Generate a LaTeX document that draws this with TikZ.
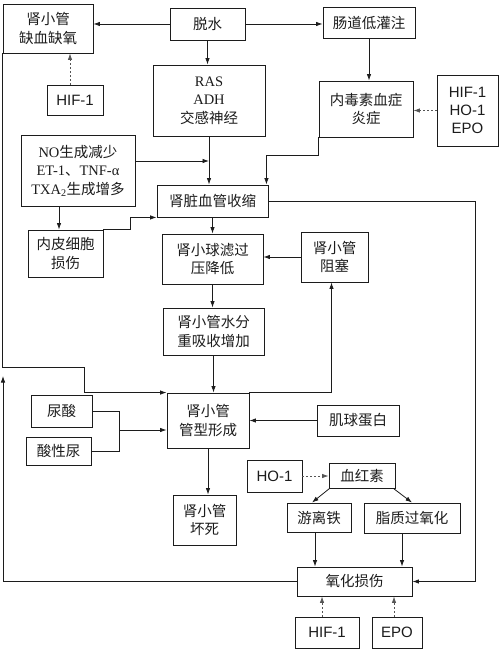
\documentclass[tikz,border=0pt]{standalone}
\usepackage{fontspec}
\setmainfont{Liberation Serif}
\newfontfamily\cjk{Noto Sans CJK SC}
\newfontfamily\lsans{Liberation Sans}
\usetikzlibrary{arrows.meta,calc}
\definecolor{ink}{HTML}{1C1C1C}
\definecolor{dotc}{HTML}{555555}
\begin{document}
\begin{tikzpicture}[x=1pt,y=-1pt,
  bx/.style={draw=ink, line width=0.9pt, inner sep=0pt, align=center, text=ink,
    font=\cjk\fontsize{14.5}{18.5}\selectfont},
  sb/.style={bx, font=\lsans\fontsize{15}{18}\selectfont},
  ln/.style={draw=ink, line width=0.8pt},
  arr/.style={ln, -{Latex[length=6.5pt,width=4.5pt]}},
  darr/.style={draw=dotc, line width=0.8pt, dash pattern=on 2pt off 2pt, -{Latex[length=6.5pt,width=4.5pt]}}]
\useasboundingbox (0,0) rectangle (503,652);
\fill[white] (0,0) rectangle (503,652);

% boxes
\node[bx, minimum width=90, minimum height=49] (qx) at (48,28.5) {肾小管\\缺血缺氧};
\node[bx, minimum width=75, minimum height=32] (ts) at (207.5,24) {脱水};
\node[bx, minimum width=92, minimum height=31] (cd) at (369,22.5) {肠道低灌注};
\node[sb, minimum width=56, minimum height=30] (hifa) at (75,100) {HIF-1};
\node[bx, minimum width=112, minimum height=71] (ras) at (209,100.5) {{\rmfamily RAS}\\{\rmfamily ADH}\\交感神经};
\node[bx, minimum width=94, minimum height=56] (nd) at (366,109) {内毒素血症\\炎症};
\node[sb, minimum width=61, minimum height=71] (hhe) at (467.5,110.5) {HIF-1\\HO-1\\EPO};
\node[bx, minimum width=114, minimum height=71] (no) at (78,170.5)
  {{\rmfamily NO}生成减少\\{\rmfamily ET-1}、{\rmfamily TNF-α}\\{\rmfamily TXA\textsubscript{2}}生成增多};
\node[bx, minimum width=111, minimum height=32] (sz) at (212.5,201) {肾脏血管收缩};
\node[bx, minimum width=75, minimum height=47] (np) at (65.5,253.5) {内皮细胞\\损伤};
\node[bx, minimum width=101, minimum height=50] (gl) at (212.5,259) {肾小球滤过\\压降低};
\node[bx, minimum width=67, minimum height=50] (zs) at (334.5,257) {肾小管\\阻塞};
\node[bx, minimum width=101, minimum height=47] (cx) at (213.5,331.5) {肾小管水分\\重吸收增加};
\node[bx, minimum width=82, minimum height=55] (gx) at (208,420.5) {肾小管\\管型形成};
\node[bx, minimum width=61, minimum height=32] (ns) at (61.5,411) {尿酸};
\node[bx, minimum width=65, minimum height=28] (sx) at (58.5,451) {酸性尿};
\node[bx, minimum width=82, minimum height=31] (jq) at (358,420.5) {肌球蛋白};
\node[bx, minimum width=63, minimum height=50] (hs) at (204.5,520) {肾小管\\坏死};
\node[sb, minimum width=55, minimum height=32] (ho) at (274.5,476) {HO-1};
\node[bx, minimum width=66, minimum height=25] (xh) at (362,475.5) {血红素};
\node[bx, minimum width=64, minimum height=29] (yl) at (319,517.5) {游离铁};
\node[bx, minimum width=96, minimum height=30] (zz) at (412,518) {脂质过氧化};
\node[bx, minimum width=115, minimum height=29] (yh) at (354.5,581.5) {氧化损伤};
\node[sb, minimum width=64, minimum height=31] (hifb) at (327,632.5) {HIF-1};
\node[sb, minimum width=50, minimum height=31] (epo) at (397,632.5) {EPO};

% helper coordinates
\coordinate (nol) at (135,161);
\coordinate (l1) at (84,367);
\coordinate (l2) at (3,376);
\coordinate (r1) at (475,197);
\coordinate (mj) at (119,430);
\coordinate (ha) at ($(hifa.north)+(-5,0)$);
\coordinate (ndc) at ($(sz.north east)+(-2,0)$);
\coordinate (zsb) at ($(zs.south)+(-3,0)$);
\coordinate (xl) at ($(xh.south west)+(1,0)$);
\coordinate (ylt) at ($(yl.north)+(-7,0)$);
\coordinate (xr) at ($(xh.south east)+(-2,0)$);
\coordinate (ylb) at ($(yl.south)+(-4,0)$);
\coordinate (zzb) at ($(zz.south)+(-10,0)$);
\coordinate (hbt) at ($(hifb.north)+(-5,0)$);
\coordinate (ept) at ($(epo.north)+(-3,0)$);

% connectors
\draw[arr] (ts.west) -- (ts.west -| qx.east);
\draw[arr] (ts.east) -- (ts.east -| cd.west);
\draw[arr] (ts.south) -- (ts.south |- ras.north);
\draw[arr] (cd.south) -- (cd.south |- nd.north);
\draw[darr] (hhe.west) -- (hhe.west -| nd.east);
\draw[darr] (ha) -- (ha |- qx.south);
\draw[arr] (ras.south) -- (ras.south |- sz.north);
\draw[arr] (nol) -- (nol -| ras.south);
\draw[arr] (nd.south west) -- ++(0,18) -| (ndc);
\draw[arr] (no.south -| 59,0) -- (np.north -| 59,0);
\draw[arr] (np.north east) -- ++(27,0) |- (sz.south west);
\draw[arr] (sz.south) -- (sz.south |- gl.north);
\draw[arr] (zs.west) -- (zs.west -| gl.east);
\draw[arr] (gl.south) -- (gl.south |- cx.north);
\draw[arr] (cx.south) -- (cx.south |- gx.north);
\draw[arr] (gx.north east) -| (zsb);
\draw[arr] (jq.west) -- (jq.west -| gx.east);
\draw[ln] (ns.east) -| (mj);
\draw[ln] (sx.east) -| (mj);
\draw[arr] (mj) -- (mj -| gx.west);
\draw[arr] (qx.south west) |- (l1) |- (gx.north west);
\draw[arr] (yh.west) -| (l2);
\draw[arr] (sz.east) -- (sz.east -| r1) |- (yh.east);
\draw[arr] (gx.south) -- (gx.south |- hs.north);
\draw[darr] (ho.east) -- (ho.east -| xh.west);
\draw[arr] (xl) -- (ylt);
\draw[arr] (xr) -- (zz.north);
\draw[arr] (ylb) -- (ylb |- yh.north);
\draw[arr] (zzb) -- (zzb |- yh.north);
\draw[darr] (hbt) -- (hbt |- yh.south);
\draw[darr] (ept) -- (ept |- yh.south);
\end{tikzpicture}
\end{document}
